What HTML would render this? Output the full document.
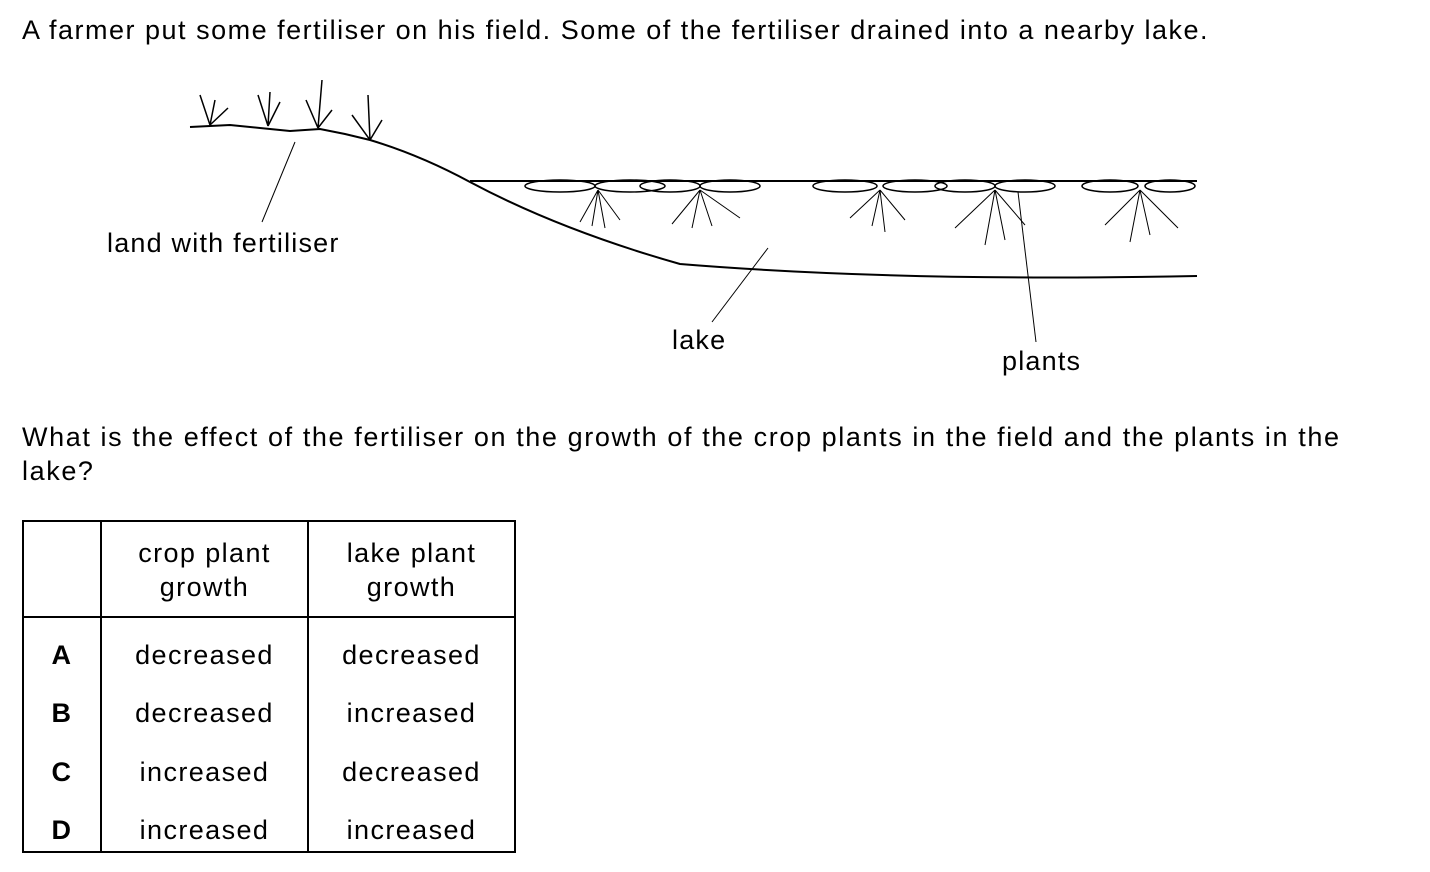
<!DOCTYPE html>
<html><head><meta charset="utf-8"><style>
body{margin:0;width:1430px;height:872px;background:#fff;font-family:"Liberation Sans",Arial,sans-serif;color:#000;position:relative;overflow:hidden}
.t{position:absolute;font-size:27px;letter-spacing:1.6px;white-space:nowrap;line-height:30px}
.c{position:absolute;font-size:27px;letter-spacing:1.4px;white-space:nowrap;text-align:center;line-height:34px}
.b{position:absolute;background:#000}
</style></head><body>
<div class="t" style="left:22px;top:15px;letter-spacing:1.5px">A farmer put some fertiliser on his field. Some of the fertiliser drained into a nearby lake.</div>
<svg style="position:absolute;left:0;top:0" width="1430" height="400" fill="none" stroke="#000" stroke-width="1.5">
<path d="M190 127 L230 125 L260 128 L290 131 L320 129 L345 134 L370 140 Q420 155 470 182 Q560 230 680 264 Q900 282 1197 276" stroke-width="2"/>
<path d="M470 181 L1197 181" stroke-width="2"/>
<g>
<path d="M210 125 L200 95 M210 125 L215 100 M210 125 L228 108"/>
<path d="M268 126 L258 95 M268 126 L270 92 M268 126 L280 102"/>
<path d="M318 128 L306 100 M318 128 L322 80 M318 128 L332 110"/>
<path d="M370 140 L352 115 M370 140 L368 95 M370 140 L382 120"/>
</g>
<line x1="295" y1="142" x2="262" y2="222" stroke-width="1"/>
<line x1="768" y1="248" x2="712" y2="322" stroke-width="1"/>
<line x1="1018" y1="192" x2="1036" y2="342" stroke-width="1"/>
<g>
<ellipse cx="560" cy="186" rx="35" ry="6"/><ellipse cx="630" cy="186" rx="35" ry="6"/>
<ellipse cx="670" cy="186" rx="30" ry="6"/><ellipse cx="730" cy="186" rx="30" ry="6"/>
<ellipse cx="845" cy="186" rx="32" ry="6"/><ellipse cx="915" cy="186" rx="32" ry="6"/>
<ellipse cx="965" cy="186" rx="30" ry="6"/><ellipse cx="1025" cy="186" rx="30" ry="6"/>
<ellipse cx="1110" cy="186" rx="28" ry="6"/><ellipse cx="1170" cy="186" rx="25" ry="6"/>
<path d="M598 190 L580 222 M598 190 L592 226 M598 190 L605 228 M598 190 L620 220" stroke-width="1"/>
<path d="M700 190 L672 224 M700 190 L692 228 M700 190 L712 226 M700 190 L740 218" stroke-width="1"/>
<path d="M880 190 L850 218 M880 190 L872 226 M880 190 L885 232 M880 190 L905 220" stroke-width="1"/>
<path d="M995 190 L955 228 M995 190 L985 245 M995 190 L1005 240 M995 190 L1025 225" stroke-width="1"/>
<path d="M1140 190 L1105 225 M1140 190 L1130 242 M1140 190 L1150 235 M1140 190 L1178 228" stroke-width="1"/>
</g>
</svg>
<div class="t" style="left:107px;top:228px;letter-spacing:1.2px">land with fertiliser</div>
<div class="t" style="left:672px;top:325px;letter-spacing:1.2px">lake</div>
<div class="t" style="left:1002px;top:346px;letter-spacing:1.2px">plants</div>
<div class="t" style="left:22px;top:420px;line-height:34px">What is the effect of the fertiliser on the growth of the crop plants in the field and the plants in the<br>lake?</div>
<div>
<div class="b" style="left:22px;top:520px;width:494px;height:2px"></div>
<div class="b" style="left:22px;top:616px;width:494px;height:2px"></div>
<div class="b" style="left:22px;top:851px;width:494px;height:2px"></div>
<div class="b" style="left:22px;top:520px;width:2px;height:333px"></div>
<div class="b" style="left:100px;top:520px;width:2px;height:333px"></div>
<div class="b" style="left:307px;top:520px;width:2px;height:333px"></div>
<div class="b" style="left:514px;top:520px;width:2px;height:333px"></div>
<div class="c" style="left:102px;width:205px;top:536px">crop plant<br>growth</div>
<div class="c" style="left:309px;width:205px;top:536px">lake plant<br>growth</div>
<div class="c" style="left:24px;width:76px;top:638px;font-weight:bold">A</div>
<div class="c" style="left:102px;width:205px;top:638px">decreased</div>
<div class="c" style="left:309px;width:205px;top:638px">decreased</div>
<div class="c" style="left:24px;width:76px;top:696px;font-weight:bold">B</div>
<div class="c" style="left:102px;width:205px;top:696px">decreased</div>
<div class="c" style="left:309px;width:205px;top:696px">increased</div>
<div class="c" style="left:24px;width:76px;top:755px;font-weight:bold">C</div>
<div class="c" style="left:102px;width:205px;top:755px">increased</div>
<div class="c" style="left:309px;width:205px;top:755px">decreased</div>
<div class="c" style="left:24px;width:76px;top:813px;font-weight:bold">D</div>
<div class="c" style="left:102px;width:205px;top:813px">increased</div>
<div class="c" style="left:309px;width:205px;top:813px">increased</div>
</div>
</body></html>
